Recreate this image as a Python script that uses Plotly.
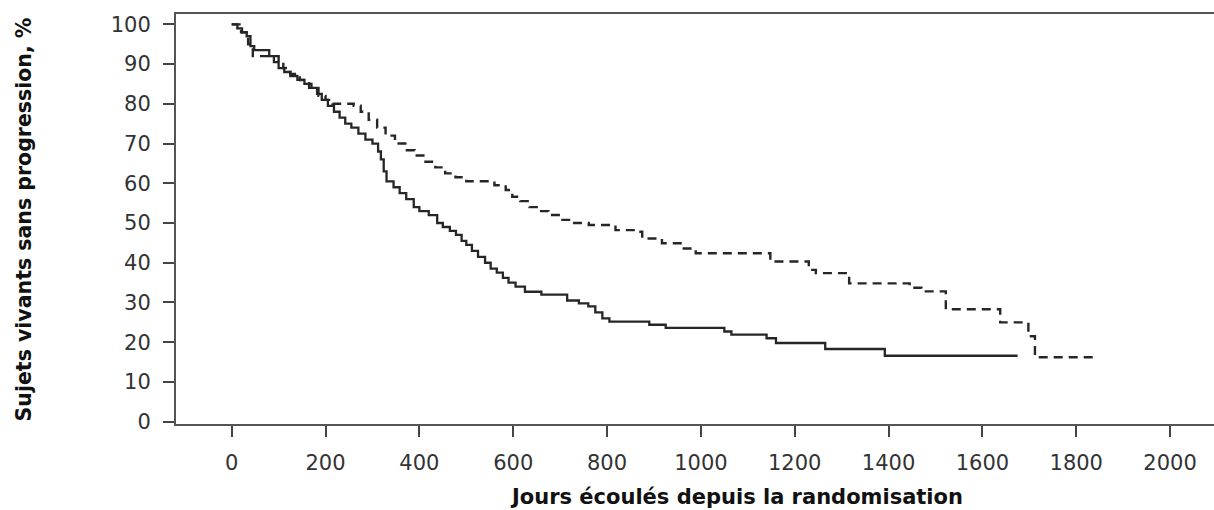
import plotly.graph_objects as go

# Solid curve (Kaplan-Meier, group 1)
solid_days = [0, 12, 22, 32, 40, 48, 80, 90, 100, 112, 125, 140, 155, 170, 182, 192,
              205, 218, 230, 242, 255, 270, 285, 300, 312, 318, 324, 330, 345, 358,
              372, 388, 400, 420, 438, 450, 465, 478, 490, 500, 512, 525, 540, 552,
              565, 578, 590, 605, 625, 660, 715, 740, 760, 775, 790, 805, 890, 925,
              1050, 1065, 1140, 1160, 1265, 1392, 1675]
solid_surv = [100, 99, 98, 97, 94.5, 93.5, 92, 90.5, 89, 88, 87, 86, 85, 84, 82.5, 81,
              79.5, 78, 76.5, 75, 74, 72.5, 71, 70, 68, 66, 63, 60.5, 59, 57.5,
              56, 54, 53, 52, 50, 49, 48, 47, 45.5, 44.5, 43, 41.5, 40, 38.5,
              37.5, 36.2, 35, 34, 32.7, 32, 30.5, 29.8, 29, 27.5, 26, 25.2, 24.4, 23.6,
              22.7, 21.9, 21.0, 19.8, 18.3, 16.6, 16.6]

# Dashed curve (Kaplan-Meier, group 2)
dash_days = [0, 20, 35, 45, 100, 110, 125, 145, 165, 185, 200, 215, 260, 275, 292,
             310, 328, 348, 370, 390, 413, 434, 455, 477, 500, 560, 584, 598, 615,
             635, 655, 675, 697, 730, 761, 818, 865, 875, 917, 960, 989, 1148, 1230,
             1245, 1316, 1445, 1470, 1522, 1638, 1698, 1712, 1845]
dash_surv = [100, 98, 95, 92, 90.5, 89, 87.5, 86, 84, 82, 81, 80, 79.5, 78, 76,
             74, 72, 70, 68.3, 67, 65.4, 64, 62.5, 61.5, 60.5, 59.5, 58.3, 56.6, 55.5,
             54, 53, 52, 50.8, 50, 49.5, 48.2, 47.8, 46.1, 44.9, 43.6, 42.4, 40.3, 38.2,
             37.4, 34.8, 33.7, 32.8, 28.3, 25.0, 21.5, 16.2, 16.2]

x_ticks = [0, 200, 400, 600, 800, 1000, 1200, 1400, 1600, 1800, 2000]
y_ticks = [0, 10, 20, 30, 40, 50, 60, 70, 80, 90, 100]

x_title = "Jours écoulés depuis la randomisation"
y_title = "Sujets vivants sans progression, %"

fig = go.Figure()
fig.add_trace(go.Scatter(x=solid_days, y=solid_surv, mode="lines", line_shape="hv",
                         line=dict(color="#262626", width=2.3), showlegend=False))
fig.add_trace(go.Scatter(x=dash_days, y=dash_surv, mode="lines", line_shape="hv",
                         line=dict(color="#262626", width=2.4, dash="9px,6px"),
                         showlegend=False))

axis_font = dict(family="DejaVu Sans, sans-serif", size=21, color="#333333")
title_family = "DejaVu Sans, sans-serif"

fig.update_layout(
    width=1214, height=510,
    margin=dict(l=176, r=0, t=14, b=86),
    paper_bgcolor="white", plot_bgcolor="white",
    xaxis=dict(range=[-118.7, 2093.6], tickvals=x_ticks, ticktext=[str(v) for v in x_ticks],
               showgrid=False, zeroline=False, showline=True, mirror=True,
               linecolor="#555555", linewidth=2, ticks="outside", ticklen=11,
               tickwidth=2, tickcolor="#444444", tickfont=axis_font,
               ticklabelstandoff=8),
    yaxis=dict(range=[-0.58, 102.6], tickvals=y_ticks, ticktext=[str(v) for v in y_ticks],
               showgrid=False, zeroline=False, showline=True, mirror=False,
               linecolor="#555555", linewidth=2, ticks="outside", ticklen=11,
               tickwidth=2, tickcolor="#444444", tickfont=axis_font,
               ticklabelstandoff=8),
    annotations=[
        dict(text="<b>" + x_title + "</b>", xref="paper", yref="paper",
             x=0.5395, y=-0.178, showarrow=False, xanchor="center", yanchor="middle",
             font=dict(family=title_family, size=21, color="#111111")),
        dict(text="<b>" + y_title + "</b>", xref="paper", yref="paper",
             x=-0.146, y=0.5, showarrow=False, xanchor="center", yanchor="middle",
             textangle=-90,
             font=dict(family=title_family, size=20.5, color="#111111")),
    ],
)

fig.write_html("out.html", config={"displayModeBar": False},
               post_script="document.body.style.margin='0';document.body.style.padding='0';")
